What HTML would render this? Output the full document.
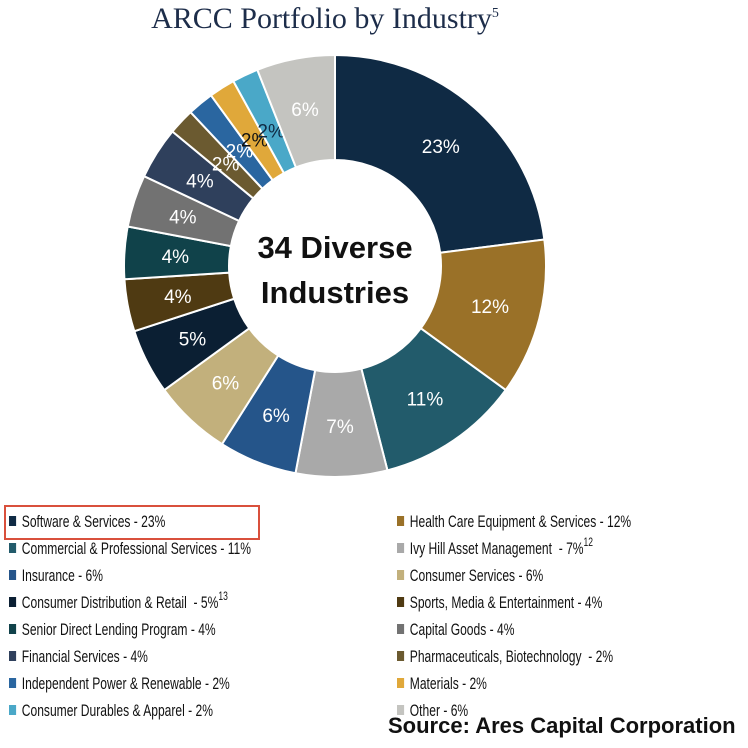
<!DOCTYPE html>
<html><head><meta charset="utf-8"><style>
body{margin:0;background:#fff;width:748px;height:748px;overflow:hidden;position:relative;font-family:"Liberation Sans",sans-serif}
.t{position:absolute;left:0;width:650px;text-align:center;top:2px;font-family:"Liberation Serif",serif;font-size:30px;color:#1d2d4a}
.t sup{font-size:14px;line-height:0}
.lg{position:absolute;font-size:17px;line-height:20px;color:#111;white-space:nowrap;transform:scaleX(0.71);transform-origin:left center}
.sq{display:inline-block;width:10px;height:10px;margin-right:8px;vertical-align:1px}
.lg sup{font-size:12px;line-height:0;vertical-align:8px}
</style></head><body>
<div class="t">ARCC Portfolio by Industry<sup>5</sup></div>
<svg id="s" width="748" height="748" style="position:absolute;left:0;top:0"></svg>
<div style="position:absolute;left:4px;top:505px;width:252px;height:31px;border:2px solid #d9503c"></div>
<div id="leg"></div>
<div style="position:absolute;left:388px;top:713px;font-weight:bold;font-size:22px;color:#111">Source: Ares Capital Corporation</div>
<script>
var d=[[23,"#0f2a44","#fff"],[12,"#9a7128","#fff"],[11,"#225b6b","#fff"],[7,"#a9a9a9","#fff"],[6,"#25558a","#fff"],[6,"#c2b07c","#fff"],[5,"#0b1f33","#fff"],[4,"#4f3a12","#fff"],[4,"#10424a","#fff"],[4,"#727272","#fff"],[4,"#2f405c","#fff"],[2,"#6b5a30","#fff"],[2,"#2a66a0","#fff"],[2,"#e0a83a","#111"],[2,"#4aa8c8","#0f2a44"],[6,"#c4c4c0","#fff"]];
var cx=335,cy=266,R=211,r=106,a=0,h="";
function p(ang,rad){return [cx+rad*Math.sin(ang),cy-rad*Math.cos(ang)];}
d.forEach(function(s){var a0=a*Math.PI/50,a1=(a+s[0])*Math.PI/50;a+=s[0];
var o0=p(a0,R),o1=p(a1,R),i1=p(a1,r),i0=p(a0,r),lg=(a1-a0)>Math.PI?1:0;
h+='<path d="M'+o0+' A'+R+' '+R+' 0 '+lg+' 1 '+o1+' L'+i1+' A'+r+' '+r+' 0 '+lg+' 0 '+i0+'Z" fill="'+s[1]+'" stroke="#fff" stroke-width="2"/>';
var m=p((a0+a1)/2,s[0]<=2?150:160);
h+='<text x="'+m[0]+'" y="'+(m[1]+7)+'" text-anchor="middle" font-size="19" fill="'+s[2]+'" font-family="Liberation Sans">'+s[0]+'%</text>';});
h+='<text x="335" y="258" text-anchor="middle" font-size="31" font-weight="bold" fill="#111" font-family="Liberation Sans">34 Diverse</text>';
h+='<text x="335" y="303" text-anchor="middle" font-size="31" font-weight="bold" fill="#111" font-family="Liberation Sans">Industries</text>';
document.getElementById('s').innerHTML=h;
var L=[["Software &amp; Services - 23%",0],["Commercial &amp; Professional Services - 11%",2],["Insurance - 6%",4],["Consumer Distribution &amp; Retail &nbsp;- 5%<sup>13</sup>",6],["Senior Direct Lending Program - 4%",8],["Financial Services - 4%",10],["Independent Power &amp; Renewable - 2%",12],["Consumer Durables &amp; Apparel - 2%",14]];
var Rr=[["Health Care Equipment &amp; Services - 12%",1],["Ivy Hill Asset Management &nbsp;- 7%<sup>12</sup>",3],["Consumer Services - 6%",5],["Sports, Media &amp; Entertainment - 4%",7],["Capital Goods - 4%",9],["Pharmaceuticals, Biotechnology &nbsp;- 2%",11],["Materials - 2%",13],["Other - 6%",15]];
var g="";
L.forEach(function(e,i){g+='<div class="lg" style="left:9px;top:'+(512+i*27)+'px"><span class="sq" style="background:'+d[e[1]][1]+'"></span>'+e[0]+'</div>';});
Rr.forEach(function(e,i){g+='<div class="lg" style="left:397px;top:'+(512+i*27)+'px"><span class="sq" style="background:'+d[e[1]][1]+'"></span>'+e[0]+'</div>';});
document.getElementById('leg').innerHTML=g;
</script>
</body></html>
